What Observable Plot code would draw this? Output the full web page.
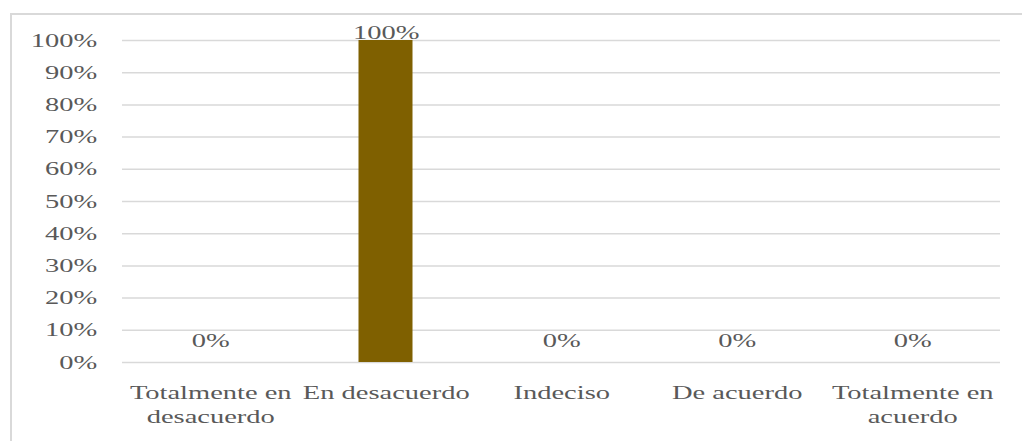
<!DOCTYPE html>
<html><head><meta charset="utf-8">
<script src="https://cdn.jsdelivr.net/npm/d3@7"></script>
<script src="https://cdn.jsdelivr.net/npm/@observablehq/plot@0.6"></script>
<style>
html,body{margin:0;padding:0;background:#fff;overflow:hidden;}
#wrap{position:relative;width:1022px;height:441px;overflow:hidden;}
#frame{position:absolute;left:10px;top:13px;width:1030px;height:450px;border:2px solid #d9d9d9;box-sizing:border-box;pointer-events:none;}
#chart svg{transform:scale(1.5,1);transform-origin:0 0;background:transparent;}
</style></head><body>
<div id="wrap"><div id="chart"></div><div id="frame"></div></div>
<script>
const categories = ["Totalmente en desacuerdo", "En desacuerdo", "Indeciso", "De acuerdo", "Totalmente en acuerdo"];
const tickLabels = ["Totalmente en\ndesacuerdo", "En desacuerdo", "Indeciso", "De acuerdo", "Totalmente en\nacuerdo"];
const values = [0, 1, 0, 0, 0];
const yTicks = [0, 0.1, 0.2, 0.3, 0.4, 0.5, 0.6, 0.7, 0.8, 0.9, 1];

const data = categories.map((c, i) => ({cat: c, value: values[i]}));
const pct = d => Math.round(d * 100) + "%";
const SX = 1.5;

const chart = Plot.plot({
  width: 1022 / SX,
  height: 441,
  marginLeft: 122 / SX,
  marginRight: 22 / SX,
  marginTop: 40,
  marginBottom: 79,
  style: {fontFamily: "Liberation Serif", fontSize: "19px", color: "#595959", background: "transparent"},
  x: {domain: categories, paddingInner: 0.69, paddingOuter: 0.345, label: null},
  y: {domain: [0, 1], label: null},
  marks: [
    Plot.ruleY(yTicks, {stroke: "#d9d9d9", strokeWidth: 1.5}),
    Plot.barY(data, {x: "cat", y: "value", fill: "#7F6000"}),
    Plot.axisY({ticks: yTicks, tickFormat: pct, tickSize: 0, tickPadding: 17, fontSize: 19, label: null}),
    Plot.axisX({tickFormat: d => tickLabels[categories.indexOf(d)], tickSize: 0, tickPadding: 20, lineHeight: 1.26, fontSize: 19, label: null}),
    Plot.text(data.filter(d => d.value > 0), {x: "cat", y: "value", text: d => pct(d.value), lineAnchor: "bottom", dy: -1, fill: "#595959", fontSize: 19}),
    Plot.text(data.filter(d => d.value === 0), {x: "cat", y: "value", text: d => pct(d.value), lineAnchor: "bottom", dy: -15, fill: "#595959", fontSize: 19})
  ]
});
document.getElementById("chart").appendChild(chart);
</script>
</body></html>
